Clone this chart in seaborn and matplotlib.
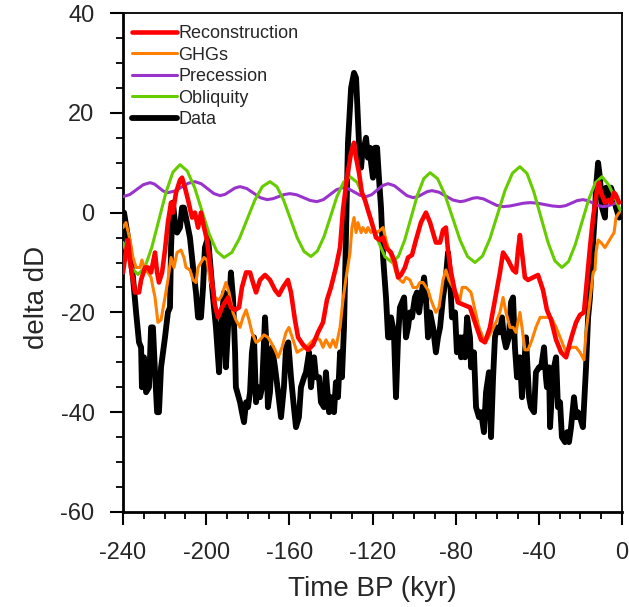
import matplotlib
matplotlib.use("Agg")
import matplotlib.pyplot as plt
import seaborn as sns
import pandas as pd
from matplotlib.ticker import MultipleLocator

# ---------------- data (time in kyr BP, value in delta dD) ----------------
data_t = [-239.5, -237.6, -235.2, -233.7, -232.3, -231.3, -230.9, -229.9, -228.9, -227.5,
          -226.5, -225.6, -224.6, -223.6, -222.7, -221.7, -219.8, -218.4, -217.4, -216.9,
          -216.0, -215.0, -214.0, -212.6, -211.6, -210.7, -209.7, -207.8, -206.3, -204.9,
          -203.9, -202.5, -201.5, -200.6, -199.1, -196.7, -195.3, -193.8, -192.9, -191.4,
          -190.5, -189.5, -188.1, -187.1, -186.1, -185.7, -183.7, -182.8, -181.8, -180.8,
          -179.9, -178.9, -178.0, -177.0, -176.0, -175.1, -174.1, -173.1, -171.7, -171.2,
          -170.3, -169.3, -168.3, -166.9, -165.4, -164.0, -162.6, -161.6, -160.5, -159.2,
          -157.8, -156.8, -155.4, -154.4, -152.9, -152.0, -150.5, -149.6, -148.1, -147.2,
          -145.7, -144.8, -143.3, -142.4, -140.9, -140.0, -138.5, -137.6, -136.6, -135.6,
          -134.7, -133.7, -132.7, -131.8, -130.3, -128.9, -127.9, -126.5, -125.5, -125.1,
          -124.1, -123.1, -122.2, -121.2, -120.7, -119.8, -118.8, -117.8, -116.9, -115.9,
          -114.9, -113.5, -112.5, -111.6, -111.1, -109.7, -108.7, -107.7, -106.8, -105.8,
          -104.8, -103.9, -102.9, -102.0, -101.0, -99.6, -98.6, -97.6, -96.7, -95.2,
          -94.3, -93.3, -92.3, -90.9, -89.5, -88.5, -87.5, -86.1, -84.7, -83.7,
          -82.7, -81.8, -80.3, -79.4, -77.9, -77.4, -76.5, -75.5, -74.5, -73.1,
          -72.6, -71.2, -70.2, -68.8, -67.8, -66.4, -65.4, -64.0, -63.0, -62.0,
          -61.1, -60.1, -58.7, -57.7, -56.8, -55.8, -54.4, -53.4, -52.4, -51.5,
          -50.5, -49.1, -48.1, -47.1, -46.2, -44.7, -43.8, -42.3, -41.4, -39.9,
          -38.9, -37.5, -36.6, -36.1, -35.1, -34.6, -33.2, -31.7, -30.8, -29.8,
          -28.9, -27.4, -26.4, -25.5, -24.5, -23.1, -22.1, -21.2, -20.2, -18.8,
          -17.3, -16.3, -15.4, -14.4, -13.0, -12.5, -11.5, -10.6, -9.6, -8.2,
          -7.7, -6.3, -5.3, -3.8, -2.9, -1.4]
data_v = [0, -5, -13, -20, -26, -27, -35, -29, -36, -35,
          -23, -23, -32, -40, -40, -31, -25, -20, -19, -7,
          2, -2, -4, -3, 1, 1, -1, -5, -11, -16,
          -21, -21, -15, -7, -5, -17, -23, -32, -23, -16,
          -31, -23, -12, -17, -28, -35, -38, -40, -42, -38,
          -39, -36, -28, -25, -38, -35, -37, -35, -21, -25,
          -39, -36, -27, -31, -36, -41, -35, -27, -26, -33,
          -39, -43, -41, -35, -33, -32, -28, -35, -29, -33,
          -33, -38, -39, -32, -40, -37, -40, -34, -37, -28,
          -33, -23, -3, 14, 25, 28, 27, 14, 9, 11,
          13, 15, 11, 13, 10, 7, 13, 13, 7, 1,
          -9, -17, -25, -25, -21, -24, -37, -25, -19, -18,
          -17, -25, -23, -20, -21, -17, -16, -20, -17, -13,
          -17, -25, -20, -23, -28, -25, -23, -17, -13, -8,
          -13, -21, -20, -28, -25, -29, -25, -29, -21, -25,
          -31, -28, -39, -41, -40, -44, -36, -32, -45, -33,
          -25, -23, -24, -21, -25, -27, -25, -18, -17, -27,
          -33, -29, -37, -31, -25, -37, -39, -40, -32, -31,
          -31, -27, -33, -35, -31, -43, -32, -29, -39, -38,
          -45, -46, -44, -46, -43, -37, -41, -40, -41, -43,
          -31, -21, -17, -9, 0, 5, 10, 7, 1, -1,
          5, 3, 5, 3, 1, -1]

recon_t = [-240.0, -239.0, -237.6, -236.2, -234.2, -232.3, -231.3, -229.4, -228.0, -226.5,
           -224.6, -223.6, -222.7, -221.2, -219.8, -218.4, -216.9, -216.0, -214.5, -212.6,
           -211.6, -210.2, -208.7, -206.8, -205.4, -203.9, -202.5, -201.0, -199.6, -197.7,
           -195.8, -194.3, -192.4, -189.5, -188.1, -186.1, -184.2, -182.8, -180.8, -178.9,
           -177.5, -176.0, -174.1, -171.7, -169.3, -166.9, -165.0, -163.1, -160.7, -159.2,
           -157.3, -155.8, -153.4, -151.0, -148.6, -146.2, -143.8, -141.9, -140.0, -137.6,
           -135.6, -134.2, -132.3, -130.3, -128.9, -127.9, -126.5, -125.1, -123.6, -122.2,
           -120.7, -118.3, -116.4, -114.9, -113.5, -111.1, -109.2, -107.7, -106.3, -104.4,
           -102.9, -101.0, -99.1, -96.7, -94.3, -92.3, -90.9, -89.5, -87.5, -86.1,
           -84.7, -83.7, -82.2, -80.3, -78.9, -73.1, -70.7, -67.8, -65.9, -63.5,
           -61.1, -58.7, -57.2, -54.8, -52.4, -51.0, -50.0, -49.1, -48.1, -46.7,
           -45.2, -42.8, -40.4, -38.0, -36.1, -34.1, -31.7, -29.3, -26.9, -25.0,
           -23.6, -22.1, -20.2, -18.3, -17.3, -15.4, -13.9, -12.0, -11.1, -10.1,
           -8.2, -6.7, -5.3, -3.8, -2.9, -1.4]
recon_v = [-12, -9, -5.5, -11, -16, -16, -13.5, -11, -11, -12,
           -8, -12, -14, -12, -7.5, -2, 2, 0, 4, 6.5,
           7, 5, 2.5, -1, 0, -3, 0, -3, -5.5, -12,
           -18.5, -21, -19, -17, -19, -19.5, -19, -15, -12, -12,
           -14, -16, -13.5, -12.5, -13.5, -15.5, -16.5, -15, -13.5, -16,
           -21.5, -25, -26.5, -27.5, -26.5, -24, -22, -17.5, -15, -11,
           -7, 0.5, 7, 12, 14, 11, 8, 4, 2.5, 0.5,
           -1.5, -5, -5.5, -5, -7, -8, -10, -13, -12.5, -11,
           -9, -8.5, -5.5, -2, 0, -2, -4, -6, -6, -3.5,
           -3, -7.5, -12, -16, -18, -19, -22, -25.5, -26, -23,
           -17.5, -12, -8, -9.5, -11.5, -12, -7.5, -4.5, -8, -13,
           -13.5, -13, -12.5, -15.5, -19.5, -21.5, -25.5, -28, -29, -26,
           -24, -22, -20.5, -20, -15.5, -7, -1, 4.5, 6, 4,
           2, 2.5, 2, 4, 3.5, 2]

ghg_t = [-240.0, -238.6, -236.6, -235.2, -233.7, -231.8, -230.9, -229.4, -228.0, -226.5,
         -225.6, -224.6, -223.2, -221.7, -219.8, -218.4, -216.9, -215.5, -214.0, -212.1,
         -210.7, -209.7, -207.8, -206.3, -204.9, -203.9, -202.5, -201.0, -199.6, -198.2,
         -195.8, -193.8, -192.4, -190.5, -189.0, -187.1, -185.7, -183.7, -182.3, -180.8,
         -179.4, -178.0, -176.0, -174.1, -172.2, -170.3, -168.8, -166.9, -165.4, -163.5,
         -161.6, -160.2, -158.2, -156.3, -154.4, -152.0, -149.6, -147.2, -145.3, -143.8,
         -142.4, -140.4, -139.0, -137.6, -135.6, -134.2, -132.7, -130.8, -129.9, -128.9,
         -127.9, -127.0, -125.5, -124.6, -123.1, -122.2, -120.7, -119.3, -117.8, -114.9,
         -113.5, -112.1, -110.1, -108.7, -106.8, -105.3, -103.9, -102.0, -100.5, -98.6,
         -97.2, -95.7, -93.3, -91.9, -89.5, -88.0, -86.1, -84.7, -83.2, -81.3,
         -79.8, -77.9, -76.9, -75.0, -72.6, -70.7, -68.8, -66.9, -64.9, -63.0,
         -60.6, -58.7, -57.2, -55.8, -53.9, -52.4, -51.0, -49.1, -48.1, -46.7,
         -45.2, -43.3, -41.4, -39.4, -36.1, -34.1, -31.7, -29.3, -26.9, -24.5,
         -22.1, -20.2, -18.3, -17.3, -15.4, -13.9, -13.0, -12.5, -11.5, -10.1,
         -8.2, -6.7, -5.3, -3.8, -2.9, -1.4]
ghg_v = [-3, -2, -5.5, -9, -11, -11, -9.5, -11.5, -12, -13,
         -15, -17, -22, -21.5, -17, -13.5, -9, -11, -8, -7.5,
         -9, -11, -11.5, -13.5, -14, -11, -10, -9, -9.5, -13.5,
         -17, -17.5, -16.5, -14, -16, -20, -21.5, -23, -21, -19.5,
         -21.5, -24, -26, -25.5, -24.5, -25, -26, -27.5, -29, -27,
         -24, -23, -25.5, -28, -27.5, -27, -26, -25, -25.5, -27,
         -25.5, -27, -25.5, -27, -23, -17.5, -13, -8, -3, -1,
         -4, -2, -4, -3, -4, -3, -4, -3.5, -4, -3,
         -5.5, -7.5, -10, -12, -13.5, -14, -13, -13.5, -15, -15,
         -14, -14, -15.5, -17.5, -20, -19, -13.5, -11.5, -13.5, -15,
         -16, -17.5, -15, -15, -16, -19.5, -23, -25, -25.5, -24,
         -22, -20, -17, -20, -23, -23, -24, -20, -23, -27.5,
         -27.5, -25.5, -23, -21, -21, -21, -23, -25.5, -28, -27,
         -27, -28, -29.5, -24, -17.5, -12, -11.5, -8, -5.5, -6,
         -7, -6, -5, -4, -1, 0]

obl_t = [-240.0, -236.2, -232.8, -229.4, -226.1, -222.7, -219.3, -216.0, -212.6,
         -209.1, -205.5, -202.0, -198.5, -194.9, -191.4,
         -187.7, -184.0, -180.35, -176.7, -173.0, -169.3,
         -166.0, -162.7, -159.45, -156.2, -152.9, -149.6,
         -146.5, -143.3, -140.2, -137.1, -133.9, -130.8,
         -127.4, -124.1, -120.7, -117.3, -114.0, -110.6,
         -107.55, -104.5, -101.45, -98.4, -95.35, -92.3,
         -88.7, -85.1, -81.5, -77.9, -74.3, -70.7,
         -67.1, -63.5, -59.9, -56.3, -52.7, -49.1,
         -45.7, -42.4, -39.0, -35.6, -32.3, -28.9,
         -25.7, -22.5, -19.25, -16.0, -12.8, -9.6,
         -6.3, -3.0, -1.0]
obl_v = [-6.0, -10.9, -12.4, -10.9, -6.9, -1.4, 4.1, 8.1, 9.6,
         8.35, 4.95, 0.3, -4.35, -7.75, -9.0,
         -8.0, -5.2, -1.4, 2.4, 5.2, 6.2,
         5.2, 2.45, -1.3, -5.05, -7.8, -8.8,
         -7.7, -4.8, -0.8, 3.2, 6.1, 7.2,
         6.05, 2.9, -1.4, -5.7, -8.85, -10.0,
         -8.8, -5.5, -1.0, 3.5, 6.8, 8.0,
         6.8, 3.5, -1.0, -5.5, -8.8, -10.0,
         -8.7, -5.2, -0.4, 4.4, 7.9, 9.2,
         7.85, 4.15, -0.9, -5.95, -9.65, -11.0,
         -9.8, -6.45, -1.9, 2.65, 6.0, 7.2,
         5.5, 2.6, 0.6]

prec_t = [-240.0, -236.75, -233.5, -230.25, -227.0, -224.85, -222.7, -220.55, -218.4,
          -215.15, -211.9, -208.65, -205.4, -202.4, -199.35, -196.3, -193.3,
          -190.9, -188.5, -186.1, -183.7, -180.45, -177.2, -173.95, -170.7,
          -167.95, -165.2, -162.45, -159.7, -156.45, -153.2, -149.95, -146.7,
          -143.6, -140.45, -137.3, -134.2, -131.4, -128.65, -125.9, -123.1,
          -120.45, -117.8, -115.15, -112.5, -109.5, -106.5, -103.5, -100.5,
          -98.2, -95.95, -93.7, -91.4, -88.0, -84.65, -81.3, -77.9,
          -75.85, -73.8, -71.75, -69.7, -66.6, -63.45, -60.3, -57.2,
          -53.95, -50.7, -47.45, -44.2, -40.6, -37.0, -33.4, -29.8,
          -27.05, -24.3, -21.55, -18.8, -16.4, -13.95, -11.5, -9.1,
          -7.1, -5.05, -3.0, -1.0]
prec_v = [3.2, 3.61, 4.6, 5.59, 6.0, 5.71, 5.0, 4.29, 4.0,
          4.32, 5.1, 5.88, 6.2, 5.79, 4.8, 3.81, 3.4,
          3.66, 4.3, 4.94, 5.2, 4.82, 3.9, 2.98, 2.6,
          2.78, 3.2, 3.62, 3.8, 3.57, 3.0, 2.43, 2.2,
          2.61, 3.6, 4.59, 5.0, 4.74, 4.1, 3.46, 3.2,
          3.58, 4.5, 5.42, 5.8, 5.39, 4.4, 3.41, 3.0,
          3.2, 3.7, 4.2, 4.4, 4.08, 3.3, 2.52, 2.2,
          2.32, 2.6, 2.88, 3.0, 2.74, 2.1, 1.46, 1.2,
          1.32, 1.6, 1.88, 2.0, 1.88, 1.6, 1.32, 1.2,
          1.4, 1.9, 2.4, 2.6, 2.4, 1.9, 1.4, 1.2,
          1.32, 1.6, 1.88, 2.0]

x_ticks = [-240, -200, -160, -120, -80, -40, 0]
y_ticks = [-60, -40, -20, 0, 20, 40]

# ---------------- style ----------------
sns.set_style("white")
plt.rcParams['font.family'] = ['Liberation Sans', 'DejaVu Sans']

W, H = 629, 607
fig = plt.figure(figsize=(W / 100, H / 100), dpi=100)
L, R, T, B = 123, 622, 13, 512
ax = fig.add_axes([L / W, 1 - B / H, (R - L) / W, (B - T) / H])

series = [
    ("Data", data_t, data_v, "black", 4.2, 2),
    ("Precession", prec_t, prec_v, "#9933cc", 2.2, 3),
    ("Obliquity", obl_t, obl_v, "#66cc00", 2.2, 4),
    ("GHGs", ghg_t, ghg_v, "#ff8000", 2.2, 5),
    ("Reconstruction", recon_t, recon_v, "#ff0000", 3.3, 6),
]
handles = {}
for name, t, v, col, lw, z in series:
    assert len(t) == len(v), name
    df = pd.DataFrame({"time": t, "val": v})
    sns.lineplot(data=df, x="time", y="val", ax=ax, color=col, linewidth=lw,
                 estimator=None, sort=False, zorder=z, label=name)
    handles[name] = ax.lines[-1]
    ax.lines[-1].set_solid_joinstyle('round')
    ax.lines[-1].set_solid_capstyle('round')

ax.set_xlim(-240, 0)
ax.set_ylim(-60, 40)
ax.set_xticks(x_ticks)
ax.set_yticks(y_ticks)
ax.set_xticklabels([str(t) for t in x_ticks])
ax.set_yticklabels([str(t) for t in y_ticks])
ax.xaxis.set_minor_locator(MultipleLocator(10))
ax.yaxis.set_minor_locator(MultipleLocator(5))
ax.tick_params(which='both', bottom=True, left=True, top=False, right=False,
               direction='out', color='black')
ax.tick_params(which='major', length=9.5, width=1.5, labelsize=17)
ax.tick_params(axis='x', which='major', pad=12)
ax.tick_params(axis='y', which='major', pad=11)
ax.tick_params(which='minor', length=5, width=1.3)
for side in ['left', 'bottom']:
    ax.spines[side].set_linewidth(2.0)
    ax.spines[side].set_color('black')
for side in ['top', 'right']:
    ax.spines[side].set_linewidth(1.3)
    ax.spines[side].set_color('black')

ax.set_xlabel("")
ax.set_ylabel("")
fig.text(372.5 / W, 1 - 596 / H, "Time BP (kyr)", fontsize=20,
         ha='center', va='baseline')
fig.text(37 / W, 1 - 246 / H, "delta dD", fontsize=20, rotation=90,
         ha='right', va='center', rotation_mode='anchor')

order = ["Reconstruction", "GHGs", "Precession", "Obliquity", "Data"]
leg = ax.legend([handles[n] for n in order], order, loc='upper left',
                bbox_to_anchor=(9 / (R - L), 1 - 12 / (B - T)),
                frameon=False, fontsize=13, handlelength=2.5,
                handletextpad=0.05, labelspacing=0.25, borderpad=0,
                borderaxespad=0)

fig.savefig("out.png", dpi=100)
